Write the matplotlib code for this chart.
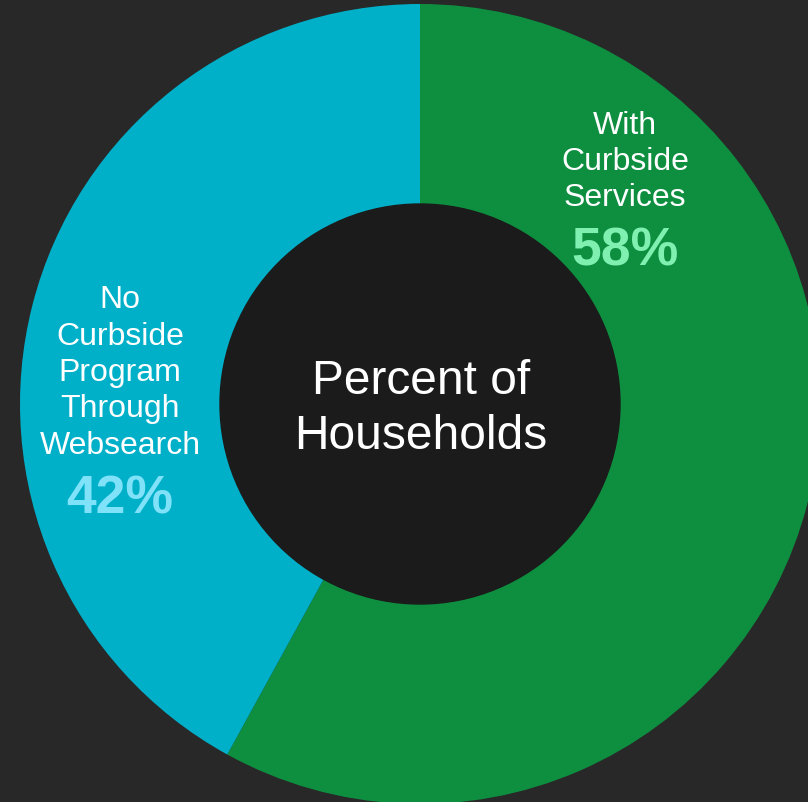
import matplotlib.pyplot as plt
from matplotlib.patches import Circle

plt.rcParams['font.family'] = ['Liberation Sans', 'DejaVu Sans']

labels = ['With\nCurbside\nServices', 'No\nCurbside\nProgram\nThrough\nWebsearch']
shares = [58, 42]
colors = ['#0e8f40', '#00b0c9']
pct_colors = ['#80f0b0', '#80e2f8']
center_title = 'Percent of\nHouseholds'

W, H = 808, 803
cx, cy, R, r_in = 420, H - 405, 400, 200

fig = plt.figure(figsize=(W / 100, H / 100), dpi=100, facecolor='#282828')
ax = fig.add_axes([0, 0, 1, 1])
ax.set_facecolor('#282828')

ax.pie(shares, colors=colors, startangle=90, counterclock=False,
       center=(cx, cy), radius=R, wedgeprops=dict(linewidth=0))
ax.add_patch(Circle((cx, cy), r_in, color='#1b1b1b', zorder=5))

ax.set_xlim(0, W)
ax.set_ylim(0, H)
ax.set_aspect('equal')
ax.axis('off')

# label text and percentages (pixel positions from top-left)
label_pos = [(625, 162), (120, 373)]
pct_pos = [(625, 251), (120, 499)]
for lab, val, (lx, ly), (px, py), pc in zip(labels, shares, label_pos, pct_pos, pct_colors):
    ax.text(lx, H - ly, lab, ha='center', va='center', color='white',
            fontsize=23, linespacing=1.28, zorder=6)
    ax.text(px, H - py, f'{val}%', ha='center', va='center', color=pc,
            fontsize=38.5, fontweight='bold', zorder=6)

ax.text(cx + 1, cy - 4, center_title, ha='center', va='center', color='white',
        fontsize=34.5, linespacing=1.3, zorder=6)

fig.savefig('out.png', dpi=100, facecolor=fig.get_facecolor())
